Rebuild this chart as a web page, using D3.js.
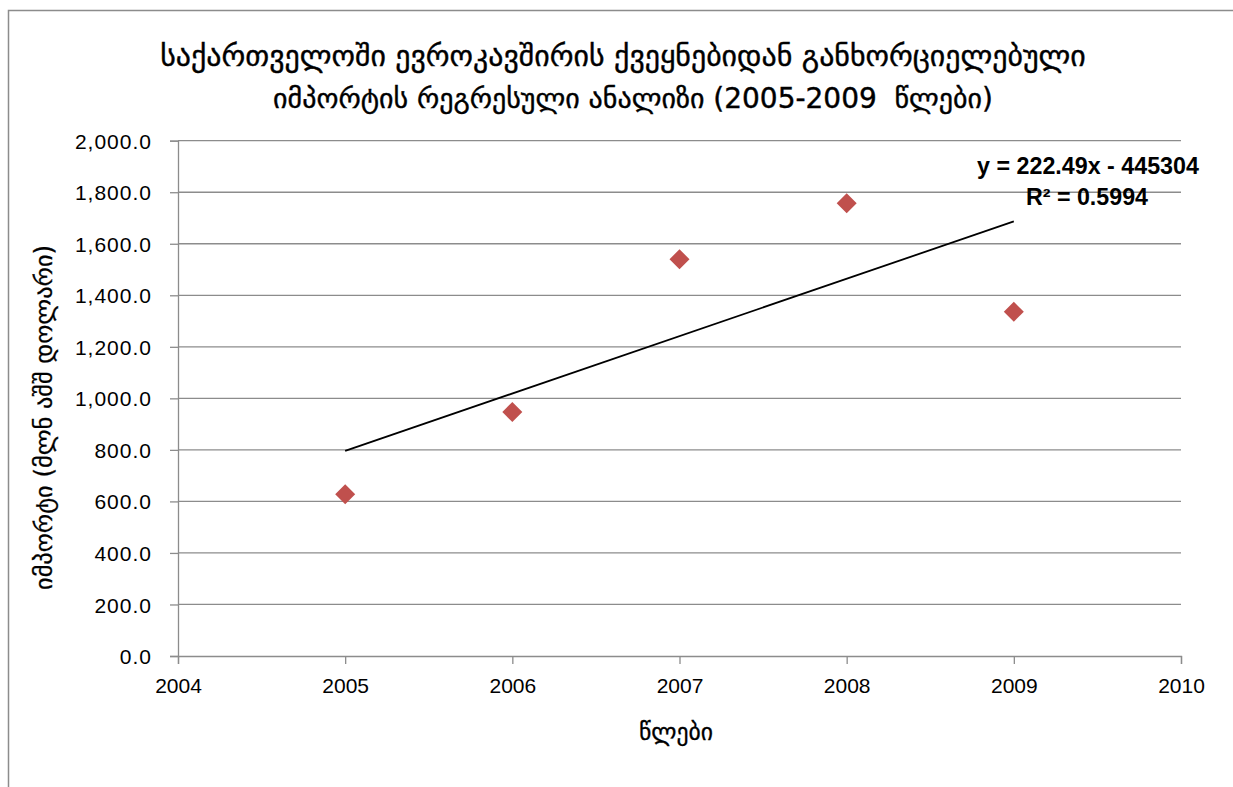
<!DOCTYPE html>
<html>
<head>
<meta charset="utf-8">
<script src="https://cdn.jsdelivr.net/npm/d3@7"></script>
<style>
  html, body { margin: 0; padding: 0; background: #fff; }
  svg { display: block; }
</style>
</head>
<body>
<svg id="chart" width="1233" height="787"></svg>
<script>
// ---- data ----
const titleLines = [
  "საქართველოში ევროკავშირის ქვეყნებიდან განხორციელებული",
  "იმპორტის რეგრესული ანალიზი (2005-2009  წლები)"
];
const yAxisTitle = "იმპორტი (მლნ აშშ დოლარი)";
const xAxisTitle = "წლები";
const years = [2005, 2006, 2007, 2008, 2009];
const imports = [628, 947, 1540, 1757, 1336];
const xTicks = [2004, 2005, 2006, 2007, 2008, 2009, 2010];
const yTicks = [0, 200, 400, 600, 800, 1000, 1200, 1400, 1600, 1800, 2000];
const equationText = "y = 222.49x - 445304";
const r2Text = "R² = 0.5994";

// ---- layout ----
const W = 1233, H = 787;
const plot = { left: 178, right: 1181, top: 140.7, bottom: 656 };
const georgianFont = "'DejaVu Sans', 'Noto Sans', sans-serif";
const latinFont = "'Liberation Sans', Arial, sans-serif";

const svg = d3.select("#chart");

// outer chart border
svg.append("rect")
  .attr("x", 8.5).attr("y", 10.5)
  .attr("width", W + 20).attr("height", H + 20)
  .attr("fill", "#fff").attr("stroke", "#8c8c8c").attr("stroke-width", 1.5);

const x = d3.scaleLinear().domain([2004, 2010]).range([plot.left, plot.right]);
const y = d3.scaleLinear().domain([0, 2000]).range([plot.bottom, plot.top]);

// gridlines
svg.append("g").selectAll("line").data(yTicks.filter(d => d > 0)).join("line")
  .attr("x1", plot.left).attr("x2", plot.right)
  .attr("y1", d => y(d)).attr("y2", d => y(d))
  .attr("stroke", "#8c8c8c").attr("stroke-width", 1.3);

// y axis
const yAxis = svg.append("g")
  .attr("transform", `translate(${plot.left},0)`)
  .call(d3.axisLeft(y).tickValues(yTicks).tickSize(8).tickPadding(18)
    .tickFormat(d3.format(",.1f")));
yAxis.select(".domain").attr("stroke", "#8c8c8c").attr("stroke-width", 1.3);
yAxis.selectAll(".tick line").attr("stroke", "#8c8c8c").attr("stroke-width", 1.3);
yAxis.selectAll(".tick text")
  .attr("font-family", latinFont).attr("font-size", 21).attr("fill", "#000")
  .attr("letter-spacing", 1).attr("dy", "0.36em");

// x axis
const xAxis = svg.append("g")
  .attr("transform", `translate(0,${plot.bottom})`)
  .call(d3.axisBottom(x).tickValues(xTicks).tickSize(8).tickPadding(14)
    .tickFormat(d3.format("d")));
xAxis.select(".domain").attr("stroke", "#8c8c8c").attr("stroke-width", 1.3);
xAxis.selectAll(".tick line").attr("stroke", "#8c8c8c").attr("stroke-width", 1.3);
xAxis.selectAll(".tick text")
  .attr("font-family", latinFont).attr("font-size", 21).attr("fill", "#000");

// linear regression from data
const mx = d3.mean(years), my = d3.mean(imports);
const slope = d3.sum(years, (d, i) => (d - mx) * (imports[i] - my)) / d3.sum(years, d => (d - mx) ** 2);
const intercept = my - slope * mx;
const trendX = [d3.min(years), d3.max(years)];
svg.append("path")
  .attr("d", d3.line().x(d => x(d)).y(d => y(slope * d + intercept))(trendX))
  .attr("fill", "none").attr("stroke", "#000").attr("stroke-width", 1.8);

// points (diamonds)
svg.append("g").selectAll("path").data(years).join("path")
  .attr("transform", (d, i) => `translate(${x(d)},${y(imports[i])}) rotate(45)`)
  .attr("d", d3.symbol().type(d3.symbolSquare).size(200))
  .attr("fill", "#c0504d");

// helper to fit text width
function fit(sel, target) {
  const len = sel.node().getComputedTextLength();
  const fs = +sel.attr("font-size");
  sel.attr("font-size", fs * target / len);
}

// equation labels
const eq = svg.append("text").attr("x", 1088).attr("y", 174)
  .attr("text-anchor", "middle").attr("font-family", latinFont)
  .attr("font-weight", "bold").attr("font-size", 20).text(equationText);
fit(eq, 222);
const r2 = svg.append("text").attr("x", 1087).attr("y", 205)
  .attr("text-anchor", "middle").attr("font-family", latinFont)
  .attr("font-weight", "bold").attr("font-size", 20).text(r2Text);
fit(r2, 122);

// title
const t1 = svg.append("text").attr("x", 623).attr("y", 66)
  .attr("text-anchor", "middle").attr("font-family", georgianFont)
  .attr("font-size", 24).attr("stroke", "#000").attr("stroke-width", 0.4)
  .text(titleLines[0]);
fit(t1, 926);
const t2 = svg.append("text").attr("x", 633).attr("y", 108)
  .attr("text-anchor", "middle").attr("font-family", georgianFont)
  .attr("font-size", 24).attr("stroke", "#000").attr("stroke-width", 0.4)
  .style("white-space", "pre").text(titleLines[1]);
fit(t2, 720);

// axis titles
const yt = svg.append("text")
  .attr("transform", `translate(52,${(245 + 590) / 2}) rotate(-90)`)
  .attr("text-anchor", "middle").attr("font-family", georgianFont)
  .attr("font-size", 20).attr("stroke", "#000").attr("stroke-width", 0.3)
  .text(yAxisTitle);
fit(yt, 345);

const xt = svg.append("text").attr("x", 676).attr("y", 740)
  .attr("text-anchor", "middle").attr("font-family", georgianFont)
  .attr("font-size", 20).attr("stroke", "#000").attr("stroke-width", 0.3)
  .text(xAxisTitle);
fit(xt, 74);
</script>
</body>
</html>
